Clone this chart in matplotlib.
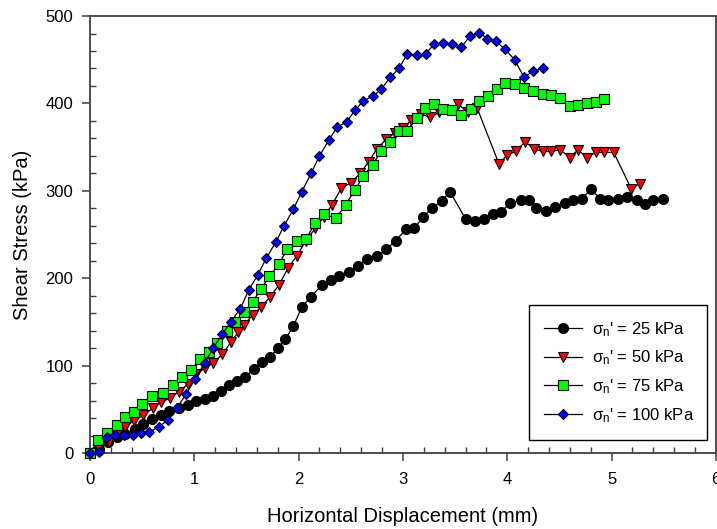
import matplotlib
matplotlib.use("Agg")
import matplotlib.pyplot as plt
from matplotlib.ticker import MultipleLocator

plt.rcParams["font.family"] = ["Liberation Sans", "DejaVu Sans"]
plt.rcParams["mathtext.fontset"] = "custom"
plt.rcParams["mathtext.rm"] = "Liberation Sans"
plt.rcParams["mathtext.it"] = "Liberation Sans"
plt.rcParams["mathtext.sf"] = "Liberation Sans"

# sigma_n' = 25 kPa
disp_25 = [0.00, 0.09, 0.17, 0.26, 0.34, 0.43, 0.51, 0.59, 0.68, 0.76, 0.85, 0.94,
           1.02, 1.10, 1.18, 1.26, 1.33, 1.41, 1.49, 1.57, 1.65, 1.73, 1.80, 1.87,
           1.95, 2.03, 2.12, 2.22, 2.31, 2.39, 2.48, 2.57, 2.66, 2.75, 2.84, 2.93,
           3.03, 3.11, 3.19, 3.28, 3.37, 3.45, 3.60, 3.69, 3.78, 3.86, 3.94, 4.03,
           4.13, 4.21, 4.28, 4.37, 4.46, 4.55, 4.63, 4.72, 4.80, 4.89, 4.97, 5.06,
           5.15, 5.24, 5.32, 5.40, 5.49]
stress_25 = [0, 5, 12, 18, 22, 27, 33, 39, 43, 48, 51, 55,
             59, 62, 65, 71, 78, 82, 87, 96, 104, 110, 120, 130,
             145, 167, 179, 192, 198, 202, 207, 214, 222, 225, 233, 243,
             256, 257, 270, 280, 288, 299, 268, 265, 268, 274, 276, 286,
             289, 289, 280, 277, 281, 286, 289, 291, 302, 291, 290, 291,
             293, 289, 285, 289, 291]

# sigma_n' = 50 kPa
disp_50 = [0.00, 0.09, 0.18, 0.26, 0.34, 0.42, 0.51, 0.60, 0.68, 0.77, 0.85, 0.94,
           1.02, 1.10, 1.18, 1.27, 1.35, 1.42, 1.48, 1.56, 1.64, 1.73, 1.81, 1.90,
           1.98, 2.07, 2.16, 2.24, 2.32, 2.41, 2.50, 2.59, 2.67, 2.75, 2.84, 2.92,
           3.00, 3.08, 3.17, 3.26, 3.35, 3.44, 3.53, 3.62, 3.71, 3.92, 4.00, 4.08,
           4.17, 4.26, 4.34, 4.42, 4.51, 4.60, 4.68, 4.76, 4.85, 4.93, 5.02, 5.19,
           5.27]
stress_50 = [0, 6, 13, 22, 30, 37, 43, 51, 58, 63, 70, 79,
             90, 97, 103, 113, 127, 138, 147, 158, 167, 179, 192, 212,
             225, 243, 257, 270, 284, 303, 309, 320, 333, 348, 359, 366,
             372, 381, 388, 384, 390, 393, 399, 390, 395, 331, 341, 345,
             356, 348, 345, 345, 347, 338, 347, 338, 344, 344, 344, 302,
             308]

# sigma_n' = 75 kPa
disp_75 = [0.00, 0.08, 0.16, 0.26, 0.34, 0.42, 0.50, 0.59, 0.70, 0.80, 0.88, 0.97,
           1.05, 1.14, 1.22, 1.31, 1.39, 1.48, 1.56, 1.64, 1.72, 1.81, 1.89, 1.98,
           2.07, 2.16, 2.24, 2.36, 2.45, 2.54, 2.62, 2.71, 2.79, 2.88, 2.96, 3.04,
           3.13, 3.21, 3.30, 3.38, 3.47, 3.56, 3.65, 3.73, 3.82, 3.90, 3.98, 4.07,
           4.16, 4.25, 4.34, 4.42, 4.51, 4.60, 4.68, 4.76, 4.85, 4.93]
stress_75 = [0, 15, 23, 32, 41, 47, 56, 65, 69, 78, 87, 95,
             107, 116, 126, 140, 150, 161, 173, 188, 202, 216, 233, 242,
             245, 263, 273, 269, 284, 301, 317, 330, 345, 356, 368, 369,
             383, 395, 399, 394, 392, 387, 394, 403, 408, 417, 423, 422,
             418, 414, 411, 410, 406, 397, 398, 400, 402, 405]

# sigma_n' = 100 kPa
disp_100 = [0.00, 0.09, 0.16, 0.24, 0.33, 0.41, 0.49, 0.57, 0.66, 0.75, 0.83, 0.92,
            1.01, 1.10, 1.18, 1.27, 1.35, 1.44, 1.52, 1.61, 1.69, 1.78, 1.86, 1.95,
            2.03, 2.12, 2.20, 2.29, 2.37, 2.46, 2.54, 2.62, 2.71, 2.79, 2.88, 2.96,
            3.04, 3.13, 3.22, 3.30, 3.38, 3.47, 3.56, 3.64, 3.73, 3.81, 3.89, 3.98,
            4.07, 4.16, 4.25, 4.34]
stress_100 = [0, 1, 18, 21, 21, 21, 23, 24, 30, 38, 51, 67,
              85, 103, 120, 136, 150, 165, 186, 204, 223, 241, 260, 279,
              299, 320, 340, 358, 373, 379, 392, 403, 408, 416, 430, 440,
              456, 455, 457, 468, 469, 468, 464, 477, 481, 474, 471, 462,
              450, 430, 437, 440]

labels = ["$\\sigma_\\mathrm{n}$' = 25 kPa", "$\\sigma_\\mathrm{n}$' = 50 kPa",
          "$\\sigma_\\mathrm{n}$' = 75 kPa", "$\\sigma_\\mathrm{n}$' = 100 kPa"]

fig = plt.figure(figsize=(7.17, 5.29), dpi=100)
ax = fig.add_axes([0.1255, 0.1437, 0.873, 0.826])

series = [
    (disp_25, stress_25, "o", "black", 7.2),
    (disp_50, stress_50, "v", "#ff0000", 7.8),
    (disp_75, stress_75, "s", "#00ff00", 6.6),
    (disp_100, stress_100, "D", "#0000ff", 5.6),
]
for (xs, ys, marker, color, size), label in zip(series, labels):
    ax.plot(xs, ys, color="black", linewidth=0.9, marker=marker, markersize=size,
            markerfacecolor=color, markeredgecolor="black", markeredgewidth=0.8,
            label=label, clip_on=False, zorder=3)

ax.set_xlim(0, 6)
ax.set_ylim(0, 500)
ax.xaxis.set_major_locator(MultipleLocator(1))
ax.xaxis.set_minor_locator(MultipleLocator(0.2))
ax.yaxis.set_major_locator(MultipleLocator(100))
ax.yaxis.set_minor_locator(MultipleLocator(20))
ax.tick_params(which="major", direction="out", length=6, width=1.1, color="#404040",
               labelsize=12)
ax.tick_params(axis="x", which="major", pad=8)
ax.tick_params(axis="y", which="major", pad=6)
ax.tick_params(which="minor", direction="in", length=4.5, width=1.0, color="#404040")
for spine in ax.spines.values():
    spine.set_color("#404040")
    spine.set_linewidth(1.3)

ax.set_xlabel("Horizontal Displacement (mm)", fontsize=14.5, labelpad=14)
ax.set_ylabel("Shear Stress (kPa)", fontsize=14.5, labelpad=10)

leg = ax.legend(loc="upper left", bbox_to_anchor=(0.701, 0.339, 0.285, 0.0),
                mode="expand", fontsize=12, handlelength=2.3, labelspacing=0.6,
                borderpad=0.9, handletextpad=0.6, fancybox=False, framealpha=1,
                edgecolor="black", borderaxespad=0)
leg.get_frame().set_linewidth(1.0)

fig.savefig("out.png", dpi=100)
